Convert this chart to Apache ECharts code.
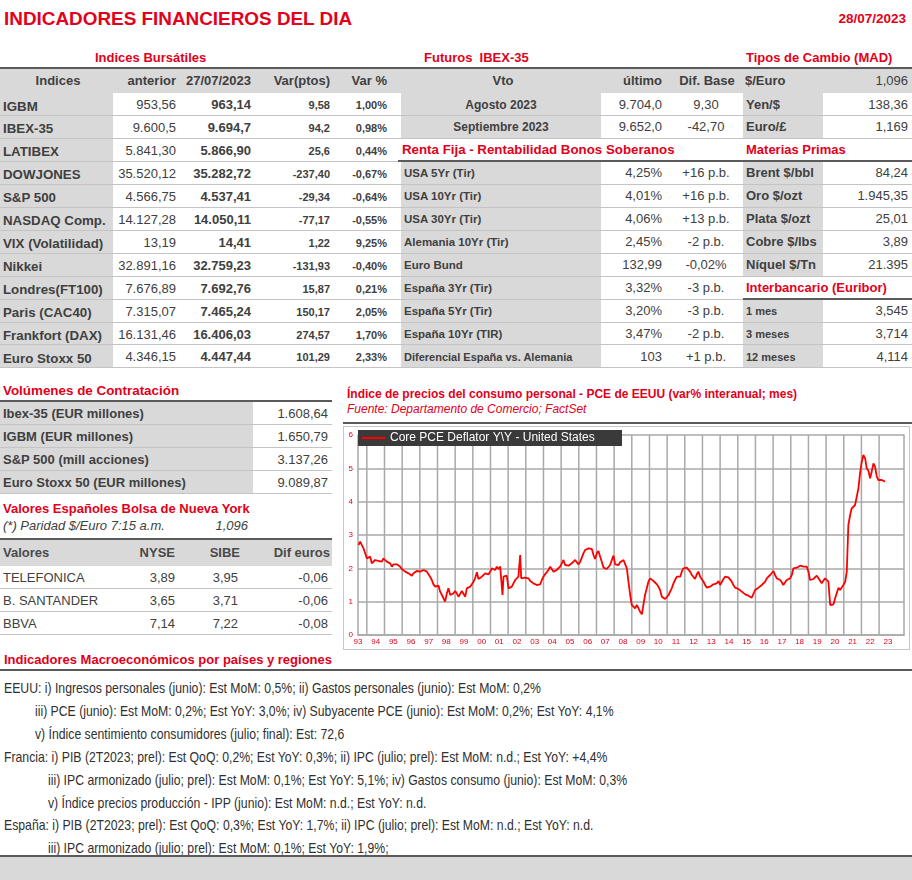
<!DOCTYPE html>
<html><head><meta charset="utf-8">
<script src="https://cdn.jsdelivr.net/npm/echarts@6/dist/echarts.min.js"></script>
<style>
html,body{margin:0;padding:0;background:#fff;}
#page{position:relative;width:912px;height:880px;overflow:hidden;font-family:"Liberation Sans",Arial,sans-serif;color:#404040;}
.t{position:absolute;white-space:pre;}
.b{position:absolute;}
</style></head><body><div id="page"></div>
<script>
// ---------------- DATA ----------------
const reportTitle = 'INDICADORES FINANCIEROS DEL DIA';
const reportDate = '28/07/2023';

const idxHeaders = ['Indices', 'anterior', '27/07/2023', 'Var(ptos)', 'Var %'];
const idxNames = ['IGBM','IBEX-35','LATIBEX','DOWJONES','S&P 500','NASDAQ Comp.','VIX (Volatilidad)','Nikkei','Londres(FT100)','Paris (CAC40)','Frankfort (DAX)','Euro Stoxx 50'];
const idxPrev = ['953,56','9.600,5','5.841,30','35.520,12','4.566,75','14.127,28','13,19','32.891,16','7.676,89','7.315,07','16.131,46','4.346,15'];
const idxLast = ['963,14','9.694,7','5.866,90','35.282,72','4.537,41','14.050,11','14,41','32.759,23','7.692,76','7.465,24','16.406,03','4.447,44'];
const idxVarPts = ['9,58','94,2','25,6','-237,40','-29,34','-77,17','1,22','-131,93','15,87','150,17','274,57','101,29'];
const idxVarPct = ['1,00%','0,98%','0,44%','-0,67%','-0,64%','-0,55%','9,25%','-0,40%','0,21%','2,05%','1,70%','2,33%'];

const futHeaders = ['Vto', 'último', 'Dif. Base'];
const futNames = ['Agosto 2023', 'Septiembre 2023'];
const futLast = ['9.704,0', '9.652,0'];
const futBase = ['9,30', '-42,70'];

const bondNames = ['USA 5Yr (Tir)','USA 10Yr (Tir)','USA 30Yr (Tir)','Alemania 10Yr (Tir)','Euro Bund','España 3Yr (Tir)','España 5Yr (Tir)','España 10Yr (TIR)','Diferencial España vs. Alemania'];
const bondYield = ['4,25%','4,01%','4,06%','2,45%','132,99','3,32%','3,20%','3,47%','103'];
const bondChange = ['+16 p.b.','+16 p.b.','+13 p.b.','-2 p.b.','-0,02%','-3 p.b.','-3 p.b.','-2 p.b.','+1 p.b.'];

const fxNames = ['$/Euro','Yen/$','Euro/£'];
const fxValues = ['1,096','138,36','1,169'];
const comNames = ['Brent $/bbl','Oro $/ozt','Plata $/ozt','Cobre $/lbs','Níquel $/Tn'];
const comValues = ['84,24','1.945,35','25,01','3,89','21.395'];
const eurNames = ['1 mes','3 meses','12 meses'];
const eurValues = ['3,545','3,714','4,114'];

const volNames = ['Ibex-35 (EUR millones)','IGBM (EUR millones)','S&P 500 (mill acciones)','Euro Stoxx 50 (EUR millones)'];
const volValues = ['1.608,64','1.650,79','3.137,26','9.089,87'];

const adrParity = ['(*) Paridad $/Euro 7:15 a.m.', '1,096'];
const adrHeaders = ['Valores','NYSE','SIBE','Dif euros'];
const adrNames = ['TELEFONICA','B. SANTANDER','BBVA'];
const adrNyse = ['3,89','3,65','7,14'];
const adrSibe = ['3,95','3,71','7,22'];
const adrDiff = ['-0,06','-0,06','-0,08'];

const chartTitle = 'Índice de precios del consumo personal - PCE de EEUU (var% interanual; mes)';
const chartSource = 'Fuente: Departamento de Comercio; FactSet';
const seriesName = 'Core PCE Deflator Y\\Y - United States';
const xMin = 1993.5, xMax = 2024.41;
const yMin = 0, yMax = 6;
const yearLines = [1994,1995,1996,1997,1998,1999,2000,2001,2002,2003,2004,2005,2006,2007,2008,2009,2010,2011,2012,2013,2014,2015,2016,2017,2018,2019,2020,2021,2022,2023];
const yearLabelPos = [1993.5,1994.5,1995.5,1996.5,1997.5,1998.5,1999.5,2000.5,2001.5,2002.5,2003.5,2004.5,2005.5,2006.5,2007.5,2008.5,2009.5,2010.5,2011.5,2012.5,2013.5,2014.5,2015.5,2016.5,2017.5,2018.5,2019.5,2020.5,2021.5,2022.5,2023.5];
// [year, % y/y]
const pceSeries = [
[1993.53,2.70],[1993.62,2.80],[1993.72,2.78],[1993.81,2.60],[1993.91,2.55],[1994.00,2.30],[1994.09,2.25],[1994.19,2.35],[1994.28,2.15],[1994.38,2.20],
[1994.47,2.25],[1994.57,2.20],[1994.66,2.22],[1994.75,2.25],[1994.85,2.20],[1994.94,2.30],[1995.04,2.25],[1995.13,2.20],[1995.23,2.25],[1995.32,2.15],
[1995.42,2.05],[1995.51,2.12],[1995.60,2.15],[1995.70,2.12],[1995.79,2.10],[1995.89,2.05],[1995.98,1.98],[1996.08,1.94],[1996.17,1.90],[1996.26,1.85],
[1996.36,1.85],[1996.45,1.84],[1996.55,1.78],[1996.60,1.73],[1996.64,1.85],[1996.74,1.90],[1996.83,1.92],[1996.92,1.87],[1997.02,1.90],[1997.11,1.92],
[1997.21,1.95],[1997.30,1.98],[1997.40,1.90],[1997.49,1.90],[1997.58,1.75],[1997.68,1.65],[1997.77,1.52],[1997.87,1.45],[1997.96,1.45],[1998.06,1.48],
[1998.15,1.30],[1998.25,1.20],[1998.34,1.22],[1998.43,1.00],[1998.53,1.25],[1998.62,1.40],[1998.72,1.20],[1998.81,1.22],[1998.91,1.25],[1999.00,1.32],
[1999.09,1.25],[1999.19,1.15],[1999.28,1.20],[1999.38,1.32],[1999.47,1.38],[1999.57,1.15],[1999.66,1.40],[1999.75,1.42],[1999.85,1.45],[1999.94,1.48],
[2000.04,1.60],[2000.13,1.70],[2000.23,1.88],[2000.32,1.68],[2000.42,1.70],[2000.51,1.75],[2000.60,1.78],[2000.70,1.85],[2000.79,1.85],[2000.89,1.82],
[2000.98,1.90],[2001.08,2.00],[2001.17,1.98],[2001.26,1.95],[2001.36,2.05],[2001.45,1.98],[2001.55,2.05],[2001.60,2.10],[2001.64,2.00],[2001.68,1.20],
[2001.74,1.75],[2001.83,1.80],[2001.92,1.78],[2002.02,1.40],[2002.11,1.42],[2002.21,1.45],[2002.30,1.55],[2002.40,1.65],[2002.49,1.60],[2002.58,1.75],
[2002.68,2.40],[2002.74,1.70],[2002.81,1.75],[2002.96,1.72],[2003.06,1.75],[2003.15,1.70],[2003.25,1.62],[2003.34,1.60],[2003.43,1.55],[2003.53,1.52],
[2003.62,1.50],[2003.72,1.45],[2003.81,1.52],[2003.91,1.65],[2004.00,1.75],[2004.09,1.82],[2004.19,1.85],[2004.28,1.95],[2004.38,2.05],[2004.47,2.05],
[2004.57,1.90],[2004.66,1.92],[2004.75,1.95],[2004.85,2.00],[2004.94,2.05],[2005.04,2.15],[2005.13,2.25],[2005.23,2.10],[2005.32,2.15],[2005.42,2.08],
[2005.51,2.10],[2005.60,2.15],[2005.70,2.20],[2005.79,2.25],[2005.89,2.30],[2005.98,2.12],[2006.08,2.20],[2006.17,2.32],[2006.26,2.45],[2006.36,2.55],
[2006.45,2.60],[2006.55,2.60],[2006.64,2.65],[2006.74,2.58],[2006.83,2.40],[2006.92,2.28],[2007.02,2.45],[2007.11,2.52],[2007.21,2.35],[2007.30,2.20],
[2007.40,2.02],[2007.49,1.98],[2007.58,1.98],[2007.68,2.00],[2007.77,2.10],[2007.87,2.25],[2007.96,2.38],[2008.06,2.12],[2008.15,2.10],[2008.25,2.10],
[2008.34,2.18],[2008.43,2.22],[2008.53,2.25],[2008.62,2.20],[2008.72,2.00],[2008.81,1.60],[2008.91,1.20],[2009.00,0.90],[2009.09,0.85],[2009.19,0.80],
[2009.28,0.90],[2009.38,0.80],[2009.47,0.70],[2009.57,0.62],[2009.66,0.65],[2009.75,1.20],[2009.85,1.40],[2009.94,1.60],[2010.04,1.70],[2010.13,1.75],
[2010.23,1.62],[2010.32,1.60],[2010.42,1.52],[2010.51,1.45],[2010.60,1.35],[2010.70,1.15],[2010.79,1.10],[2010.89,1.08],[2010.98,1.12],[2011.08,1.20],
[2011.17,1.25],[2011.26,1.40],[2011.36,1.55],[2011.45,1.65],[2011.55,1.75],[2011.64,1.80],[2011.74,1.75],[2011.83,1.90],[2011.92,2.00],[2012.02,2.02],
[2012.11,2.02],[2012.21,1.98],[2012.30,1.90],[2012.40,1.80],[2012.49,1.75],[2012.58,1.68],[2012.68,1.82],[2012.77,1.90],[2012.87,1.75],[2012.96,1.68],
[2013.06,1.60],[2013.15,1.50],[2013.25,1.42],[2013.34,1.40],[2013.43,1.45],[2013.53,1.50],[2013.62,1.52],[2013.72,1.50],[2013.81,1.55],[2013.91,1.62],
[2014.00,1.50],[2014.09,1.52],[2014.19,1.68],[2014.28,1.75],[2014.38,1.75],[2014.47,1.73],[2014.57,1.70],[2014.66,1.60],[2014.75,1.50],[2014.85,1.42],
[2014.94,1.38],[2015.04,1.38],[2015.13,1.35],[2015.23,1.30],[2015.32,1.27],[2015.42,1.22],[2015.51,1.20],[2015.60,1.18],[2015.70,1.15],[2015.79,1.12],
[2015.89,1.10],[2015.98,1.35],[2016.08,1.38],[2016.17,1.42],[2016.26,1.45],[2016.36,1.50],[2016.45,1.55],[2016.55,1.60],[2016.64,1.70],[2016.74,1.75],
[2016.83,1.80],[2016.92,1.85],[2017.02,1.92],[2017.11,1.80],[2017.21,1.70],[2017.30,1.68],[2017.40,1.65],[2017.49,1.58],[2017.58,1.50],[2017.68,1.55],
[2017.77,1.65],[2017.87,1.68],[2017.96,1.70],[2018.06,1.80],[2018.15,2.00],[2018.25,2.02],[2018.34,2.02],[2018.43,2.05],[2018.53,2.08],[2018.62,2.02],
[2018.72,2.05],[2018.81,2.00],[2018.91,2.05],[2019.00,1.90],[2019.09,1.65],[2019.19,1.70],[2019.28,1.68],[2019.38,1.72],[2019.47,1.78],[2019.57,1.70],
[2019.66,1.65],[2019.75,1.55],[2019.85,1.60],[2019.94,1.70],[2020.04,1.75],[2020.13,1.60],[2020.23,0.90],[2020.32,0.90],[2020.42,0.92],[2020.51,1.10],
[2020.60,1.25],[2020.70,1.42],[2020.79,1.35],[2020.89,1.38],[2020.98,1.50],[2021.08,1.60],[2021.17,1.90],[2021.26,3.30],[2021.36,3.60],[2021.45,3.80],
[2021.55,3.85],[2021.64,3.90],[2021.74,3.92],[2021.83,4.40],[2021.92,4.85],[2022.02,5.20],[2022.11,5.40],[2022.21,5.30],[2022.30,5.00],[2022.40,4.92],
[2022.49,4.70],[2022.58,4.90],[2022.68,5.15],[2022.77,5.05],[2022.87,4.75],[2022.96,4.65],[2023.06,4.62],[2023.15,4.65],[2023.25,4.62],[2023.34,4.60]
];

const macroTitle = 'Indicadores Macroeconómicos por países y regiones';
const macroLines = [
 [0,'EEUU: i) Ingresos personales (junio): Est MoM: 0,5%; ii) Gastos personales (junio): Est MoM: 0,2%'],
 [1,'iii) PCE (junio): Est MoM: 0,2%; Est YoY: 3,0%; iv) Subyacente PCE (junio): Est MoM: 0,2%; Est YoY: 4,1%'],
 [1,'v) Índice sentimiento consumidores (julio; final): Est: 72,6'],
 [0,'Francia: i) PIB (2T2023; prel): Est QoQ: 0,2%; Est YoY: 0,3%; ii) IPC (julio; prel): Est MoM: n.d.; Est YoY: +4,4%'],
 [2,'iii) IPC armonizado (julio; prel): Est MoM: 0,1%; Est YoY: 5,1%; iv) Gastos consumo (junio): Est MoM: 0,3%'],
 [2,'v) Índice precios producción - IPP (junio): Est MoM: n.d.; Est YoY: n.d.'],
 [0,'España: i) PIB (2T2023; prel): Est QoQ: 0,3%; Est YoY: 1,7%; ii) IPC (julio; prel): Est MoM: n.d.; Est YoY: n.d.'],
 [2,'iii) IPC armonizado (julio; prel): Est MoM: 0,1%; Est YoY: 1,9%;']
];

// ---------------- LAYOUT HELPERS ----------------
const RED = '#e2001a', GRAY = '#d9d9d9', DARK = '#5a5a5a', SEP = '#c4c4c4', INK = '#404040';
const page = document.getElementById('page');
function rect(x, y, w, h, color) {
  const d = document.createElement('div'); d.className = 'b';
  d.style.cssText = `left:${x}px;top:${y}px;width:${w}px;height:${h}px;background:${color};`;
  page.appendChild(d); return d;
}
function text(s, x, yc, o = {}) {
  const d = document.createElement('div'); d.className = 't'; d.textContent = s;
  const size = o.size || 13, align = o.align || 'left', h = 22;
  let left = x, width = null;
  if (align === 'right') { left = x - 450; width = 450; }
  else if (align === 'center') { left = x - 225; width = 450; }
  d.style.left = left + 'px'; if (width) d.style.width = width + 'px';
  d.style.top = (yc - h / 2) + 'px'; d.style.height = h + 'px'; d.style.lineHeight = h + 'px';
  d.style.textAlign = align; d.style.fontSize = size + 'px';
  d.style.fontWeight = o.bold ? 'bold' : 'normal';
  if (o.italic) d.style.fontStyle = 'italic';
  d.style.color = o.color || INK;
  if (o.family) d.style.fontFamily = o.family;
  page.appendChild(d); return d;
}
const RH = 22.95;
const rowTop = r => 93 + RH * r;
const rT = r => Math.round(rowTop(r));

// ---------------- TOP ----------------
text(reportTitle, 4, 19, {size: 18.9, bold: true, color: RED});
text(reportDate, 906, 19, {size: 13.5, bold: true, color: RED, align: 'right'});
text('Indices Bursátiles', 95, 58, {bold: true, color: RED});
text('Futuros  IBEX-35', 424, 58, {bold: true, color: RED});
text('Tipos de Cambio (MAD)', 746, 58, {bold: true, color: RED});

rect(0, 67, 912, 2, DARK);
rect(0, 69, 912, 24, GRAY);
const hy = 81;
text(idxHeaders[0], 58, hy, {bold: true, align: 'center'});
text(idxHeaders[1], 176, hy, {bold: true, align: 'right'});
text(idxHeaders[2], 251, hy, {bold: true, align: 'right'});
text(idxHeaders[3], 330, hy, {bold: true, align: 'right'});
text(idxHeaders[4], 387, hy, {bold: true, align: 'right'});
text(futHeaders[0], 503, hy, {bold: true, align: 'center'});
text(futHeaders[1], 662, hy, {bold: true, align: 'right'});
text(futHeaders[2], 707, hy, {bold: true, align: 'center'});
text(fxNames[0], 745, hy, {bold: true});
text(fxValues[0], 908, hy, {align: 'right'});

// Left: indices
idxNames.forEach((n, r) => {
  const t = rT(r), b = rT(r + 1);
  rect(0, t, 113, b - t, GRAY);
  rect(0, b - 1, 398, 1, SEP);
  text(n, 3, rowTop(r) + 13.5, {bold: true, size: 13.3});
  text(idxPrev[r], 176, rowTop(r) + 12, {align: 'right'});
  text(idxLast[r], 251, rowTop(r) + 12, {bold: true, align: 'right'});
  text(idxVarPts[r], 330, rowTop(r) + 12, {bold: true, size: 11, align: 'right'});
  text(idxVarPct[r], 387, rowTop(r) + 12, {bold: true, size: 11, align: 'right'});
});

// Middle: futures + bonds
function midRow(r) {
  const t = rT(r), b = rT(r + 1);
  rect(401, t, 200, b - t, GRAY);
  rect(398, b - 1, 345, 1, SEP);
}
futNames.forEach((n, r) => {
  midRow(r);
  text(n, 501, rowTop(r) + 11.5, {bold: true, size: 12, align: 'center'});
  text(futLast[r], 662, rowTop(r) + 11.5, {align: 'right'});
  text(futBase[r], 706, rowTop(r) + 11.5, {align: 'center'});
});
text('Renta Fija - Rentabilidad Bonos Soberanos', 402, rowTop(2) + 11.5, {bold: true, size: 13.3, color: RED});
rect(398, rT(3) - 2, 345, 2, DARK);
bondNames.forEach((n, i) => {
  const r = i + 3;
  midRow(r);
  text(n, 404, rowTop(r) + 11.5, {bold: true, size: i === 8 ? 11 : 11.5});
  text(bondYield[i], 662, rowTop(r) + 11.5, {align: 'right'});
  text(bondChange[i], 706, rowTop(r) + 11.5, {align: 'center'});
});

// Right: fx, commodities, euribor
function rightRow(r, label, value, lsize) {
  const t = rT(r), b = rT(r + 1);
  rect(743, t, 80, b - t, GRAY);
  rect(743, b - 1, 169, 1, SEP);
  text(label, 746, rowTop(r) + 11.5, {bold: true, size: lsize || 13});
  text(value, 908, rowTop(r) + 11.5, {align: 'right'});
}
rightRow(0, fxNames[1], fxValues[1]);
rightRow(1, fxNames[2], fxValues[2]);
text('Materias Primas', 746, rowTop(2) + 11.5, {bold: true, color: RED});
rect(743, rT(3) - 2, 169, 2, DARK);
comNames.forEach((n, i) => rightRow(i + 3, n, comValues[i]));
text('Interbancario (Euribor)', 746, rowTop(8) + 11.5, {bold: true, color: RED});
rect(743, rT(9) - 2, 169, 2, DARK);
eurNames.forEach((n, i) => rightRow(i + 9, n, eurValues[i], 11));

// Volúmenes
text('Volúmenes de Contratación', 3, 391, {bold: true, size: 13.4, color: RED});
rect(0, 400, 332, 2, DARK);
volNames.forEach((n, i) => {
  const t = 402 + 23 * i;
  rect(0, t, 253, 23, GRAY);
  rect(0, t + 22, 332, 1, SEP);
  text(n, 3, t + 11.5, {bold: true});
  text(volValues[i], 328, t + 11.5, {align: 'right'});
});

// ADRs
text('Valores Españoles Bolsa de Nueva York', 3, 509, {bold: true, color: RED});
text(adrParity[0], 3, 526, {italic: true});
text(adrParity[1], 248, 526, {italic: true, align: 'right'});
rect(0, 538, 332, 2, DARK);
rect(0, 540, 332, 26, GRAY);
text(adrHeaders[0], 3, 553, {bold: true, color: '#4a4a4a'});
text(adrHeaders[1], 175, 553, {bold: true, color: '#4a4a4a', align: 'right'});
text(adrHeaders[2], 240, 553, {bold: true, color: '#4a4a4a', align: 'right'});
text(adrHeaders[3], 330, 553, {bold: true, color: '#4a4a4a', align: 'right'});
adrNames.forEach((n, i) => {
  const t = 566 + 23 * i;
  rect(0, t + 22, 332, 1, SEP);
  text(n, 3, t + 11.5);
  text(adrNyse[i], 175, t + 11.5, {align: 'right'});
  text(adrSibe[i], 238, t + 11.5, {align: 'right'});
  text(adrDiff[i], 328, t + 11.5, {align: 'right'});
});

// Chart header
text(chartTitle, 347, 394, {bold: true, size: 12, color: RED});
text(chartSource, 347, 409, {italic: true, size: 12, color: RED});
rect(343, 422, 569, 2, DARK);

// Macro
text(macroTitle, 4, 660, {bold: true, color: RED});
rect(0, 669, 912, 2, DARK);
const mctx = document.createElement('canvas').getContext('2d');
const macroFam = '"Liberation Sans"';
const macroSize = 14.5;
mctx.font = `${macroSize}px ${macroFam}`;
const macroScale = 537 / mctx.measureText(macroLines[0][1]).width;
const indentX = [4, 35, 48];
macroLines.forEach(([lvl, s], i) => {
  const d = text(s, indentX[lvl], 688 + 22.9 * i, {size: macroSize, family: macroFam, color: '#303030'});
  d.style.transformOrigin = 'left center';
  d.style.transform = `scaleX(${macroScale})`;
});
rect(0, 855, 912, 2, DARK);
rect(0, 857, 912, 23, GRAY);

// ---------------- CHART ----------------
const wrap = rect(343, 426, 567, 224, '#fff');
wrap.style.border = '1px solid #c6c6c6';
wrap.style.boxSizing = 'border-box';
const chartDiv = document.createElement('div');
chartDiv.style.cssText = 'position:absolute;left:0;top:0;width:565px;height:222px;';
wrap.appendChild(chartDiv);
const chart = echarts.init(chartDiv, null, {renderer: 'canvas'});
const GL = '#a9a9a9';
// vertical year-boundary gridlines: one two-point line per year on the axis scales
const gridSeries = yearLines.map(y => ({
  type: 'line', name: seriesName, silent: true, z: 3,
  data: [[y, yMin], [y, yMax]],
  symbol: 'none', showSymbol: false,
  lineStyle: {color: GL, width: 1.5},
  emphasis: {disabled: true}, tooltip: {show: false}
}));
chart.setOption({
  animation: false,
  grid: {left: 14, right: 5, top: 8, bottom: 14, show: false},
  // legend box (drawn as graphic so every series stays visible)
  graphic: [
    {type: 'rect', left: 14, top: 3, z: 100, shape: {width: 264, height: 16}, style: {fill: '#3a3a3a'}, silent: true},
    {type: 'line', z: 101, shape: {x1: 18, y1: 11, x2: 41, y2: 11}, style: {stroke: '#ff0000', lineWidth: 2}, silent: true},
    {type: 'text', left: 46, top: 5, z: 101, silent: true,
     style: {text: seriesName, fill: '#ffffff', font: '12px "Liberation Sans", Arial, sans-serif'}}
  ],
  xAxis: {
    type: 'value', min: xMin, max: xMax,
    axisLine: {show: true, lineStyle: {color: GL, width: 1.5}},
    axisTick: {show: false},
    splitLine: {show: false},
    axisLabel: {
      customValues: yearLabelPos,
      formatter: v => String(Math.floor(v)).slice(2),
      color: RED, fontSize: 8, margin: 3, fontFamily: 'Liberation Sans'
    }
  },
  yAxis: [
    {
      type: 'value', min: yMin, max: yMax, interval: 1,
      axisLine: {show: true, lineStyle: {color: GL, width: 1.5}},
      axisTick: {show: false},
      splitLine: {show: true, lineStyle: {color: GL, width: 1.5}},
      axisLabel: {color: RED, fontSize: 8, margin: 5, fontFamily: 'Liberation Sans'}
    },
    {
      type: 'value', position: 'right', min: yMin, max: yMax, interval: 1,
      axisLine: {show: true, onZero: false, lineStyle: {color: GL, width: 1.5}},
      axisTick: {show: false}, axisLabel: {show: false}, splitLine: {show: false}
    }
  ],
  series: [
    {
      type: 'line', name: seriesName, data: pceSeries, showSymbol: false, symbol: 'none', z: 5,
      lineStyle: {color: '#ff0000', width: 1.8}, itemStyle: {color: '#ff0000'}
    }
  ].concat(gridSeries)
});
</script></body></html>
